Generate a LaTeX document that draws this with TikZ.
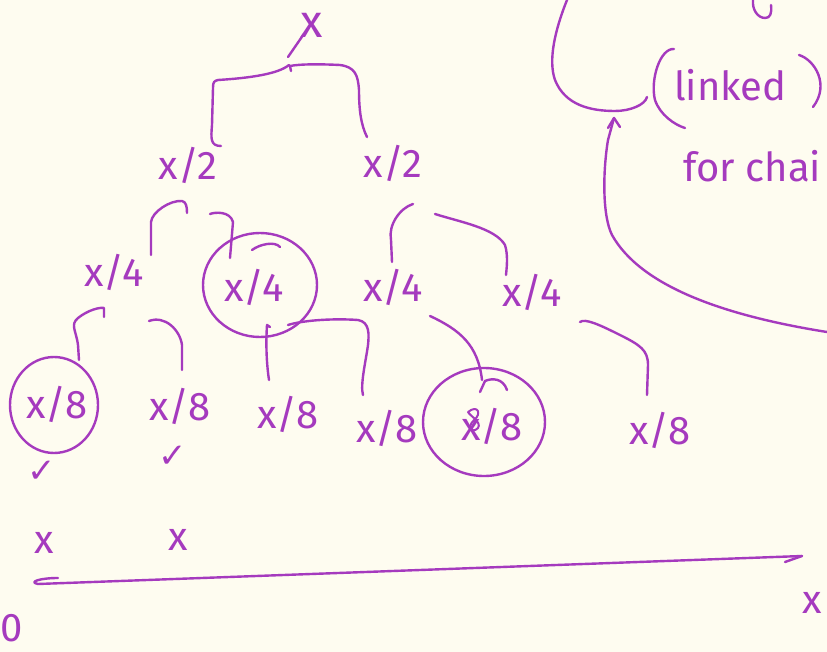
\documentclass[tikz,border=0pt]{standalone}
\usepackage{fontspec}
\setmainfont{Fira Sans}
\newfontfamily\symf{DejaVu Sans}
\definecolor{bg}{RGB}{254,252,240}
\definecolor{ink}{RGB}{165,58,190}
\begin{document}
\begin{tikzpicture}[x=1pt,y=-1pt,
  pen/.style={draw=ink,line width=2.4pt,line cap=round,line join=round},
  lab/.style={text=ink,font=\fontsize{40}{40}\selectfont,inner sep=0pt},
  big/.style={text=ink,font=\fontsize{46}{46}\selectfont,inner sep=0pt},
  chk/.style={text=ink,font=\symf\fontsize{34}{34}\selectfont,inner sep=0pt}]
\fill[bg] (0,0) rectangle (827,652);
\useasboundingbox (0,0) rectangle (827,652);
\clip (0,0) rectangle (827,652);

% root
\node[big] (top) at (312,25) {x};
\coordinate (toptail) at (288,57);
\draw[pen] ([xshift=3pt,yshift=3pt]top.south west) -- (toptail);

% level 1
\node[lab] (h1) at (188,165) {x/2};
\node[lab] (h2) at (393,163) {x/2};
\draw[pen] (221,146) .. controls (210,146) and (211,138) .. (212,125) -- (213,88)
  .. controls (213,82) and (214,81) .. (218,80) .. controls (250,78) and (278,74) .. (289,65);
\draw[pen] (291,71) -- (290,66) .. controls (300,64) and (320,64) .. (340,65)
  .. controls (355,67) and (358,75) .. (359,90) .. controls (359,110) and (361,125) .. (367,137);

% level 2
\node[lab] (q1) at (114,272) {x/4};
\node[lab] (q2) at (254,287) {x/4};
\node[lab] (q3) at (393,287) {x/4};
\node[lab] (q4) at (532,292) {x/4};
\draw[pen] (260,285) ellipse [x radius=57pt, y radius=52pt];
\draw[pen] (151,255) -- (151,222) .. controls (152,212) and (170,200) .. (182,201)
  .. controls (186,202) and (187,206) .. (187,213);
\draw[pen] (210,214) .. controls (215,212) and (230,211) .. (233,222) -- (230,258);
\draw[pen] (252,250) .. controls (260,244) and (275,241) .. (280,247);
\draw[pen] (392,262) -- (391,240) .. controls (388,225) and (400,208) .. (413,204);
\draw[pen] (435,214) .. controls (460,222) and (495,228) .. (505,245)
  .. controls (508,255) and (507,265) .. (506,275);

% level 3
\node[lab] (e1) at (57,404) {x/8};
\node[lab] (e2) at (180,406) {x/8};
\node[lab] (e3) at (288,414) {x/8};
\node[lab] (e4) at (387,428) {x/8};
\node[lab] (e5) at (492,426) {x/8};
\node[lab] (e6) at (660,430) {x/8};
\draw[pen,line width=2pt] (468,412) .. controls (478,404) and (482,414) .. (474,420)
  .. controls (466,428) and (472,434) .. (478,428) .. controls (482,422) and (470,416) .. (468,412);
\draw[pen] (54,405) ellipse [x radius=44pt, y radius=48pt];
\draw[pen] (484,422) ellipse [x radius=61pt, y radius=54pt];
\draw[pen] (79,360) -- (78,345) .. controls (76,330) and (70,325) .. (78,318)
  .. controls (88,310) and (100,307) .. (104,308) -- (104,317);
\draw[pen] (149,321) .. controls (165,315) and (180,330) .. (182,345) -- (182,370);
\draw[pen] (269,380) .. controls (266,360) and (266,340) .. (267,325) -- (270,327);
\draw[pen] (288,325) .. controls (300,321) and (330,318) .. (358,320)
  .. controls (370,322) and (369,335) .. (368,345) .. controls (366,360) and (360,385) .. (363,395);
\draw[pen] (430,316) .. controls (460,330) and (478,345) .. (482,380);
\draw[pen] (480,392) -- (485,381) .. controls (492,378) and (503,378) .. (507,390);
\draw[pen] (580,322) .. controls (585,318) and (600,325) .. (620,335)
  .. controls (640,345) and (648,350) .. (648,365) -- (647,395);

% marks
\node[chk] (c1) at (42,472) {✓};
\node[chk] (c2) at (173,457) {✓};
\node[lab] (m1) at (44,543) {x};
\node[lab] (m2) at (178,540) {x};

% axis
\coordinate (ax0) at (58,578);
\coordinate (ax1) at (802,556);
\draw[pen] (ax0) .. controls (40,578) and (28,582) .. (38,584) -- (ax1);
\draw[pen] (785,562) -- (ax1);
\node[lab] (zero) at (12,628) {0};
\node[lab] (xend) at (812,603) {x};

% top right
\draw[pen] (567,0) .. controls (555,30) and (548,60) .. (555,80)
  .. controls (565,105) and (590,111) .. (615,111) .. controls (630,111) and (645,105) .. (647,97);
\draw[pen] (753,0) .. controls (752,10) and (758,18) .. (765,18) .. controls (770,18) and (772,14) .. (771,5);
\draw[pen] (674,49) .. controls (660,48) and (650,80) .. (655,100) .. controls (660,115) and (675,125) .. (685,128);
\node[lab,anchor=base west] (linked) at (674,101) {linked};
\draw[pen] (799,55) .. controls (815,60) and (830,85) .. (813,107);
\node[lab,anchor=base west] (forc) at (683,182) {for chai};

% arrow up
\coordinate (arE) at (827,332);
\coordinate (arT) at (614,118);
\draw[pen] (arE) .. controls (720,315) and (640,285) .. (612,235)
  .. controls (602,215) and (603,170) .. (608,140) -- (arT);
\draw[pen] (608,128) -- (arT) -- (620,127);
\end{tikzpicture}
\end{document}
